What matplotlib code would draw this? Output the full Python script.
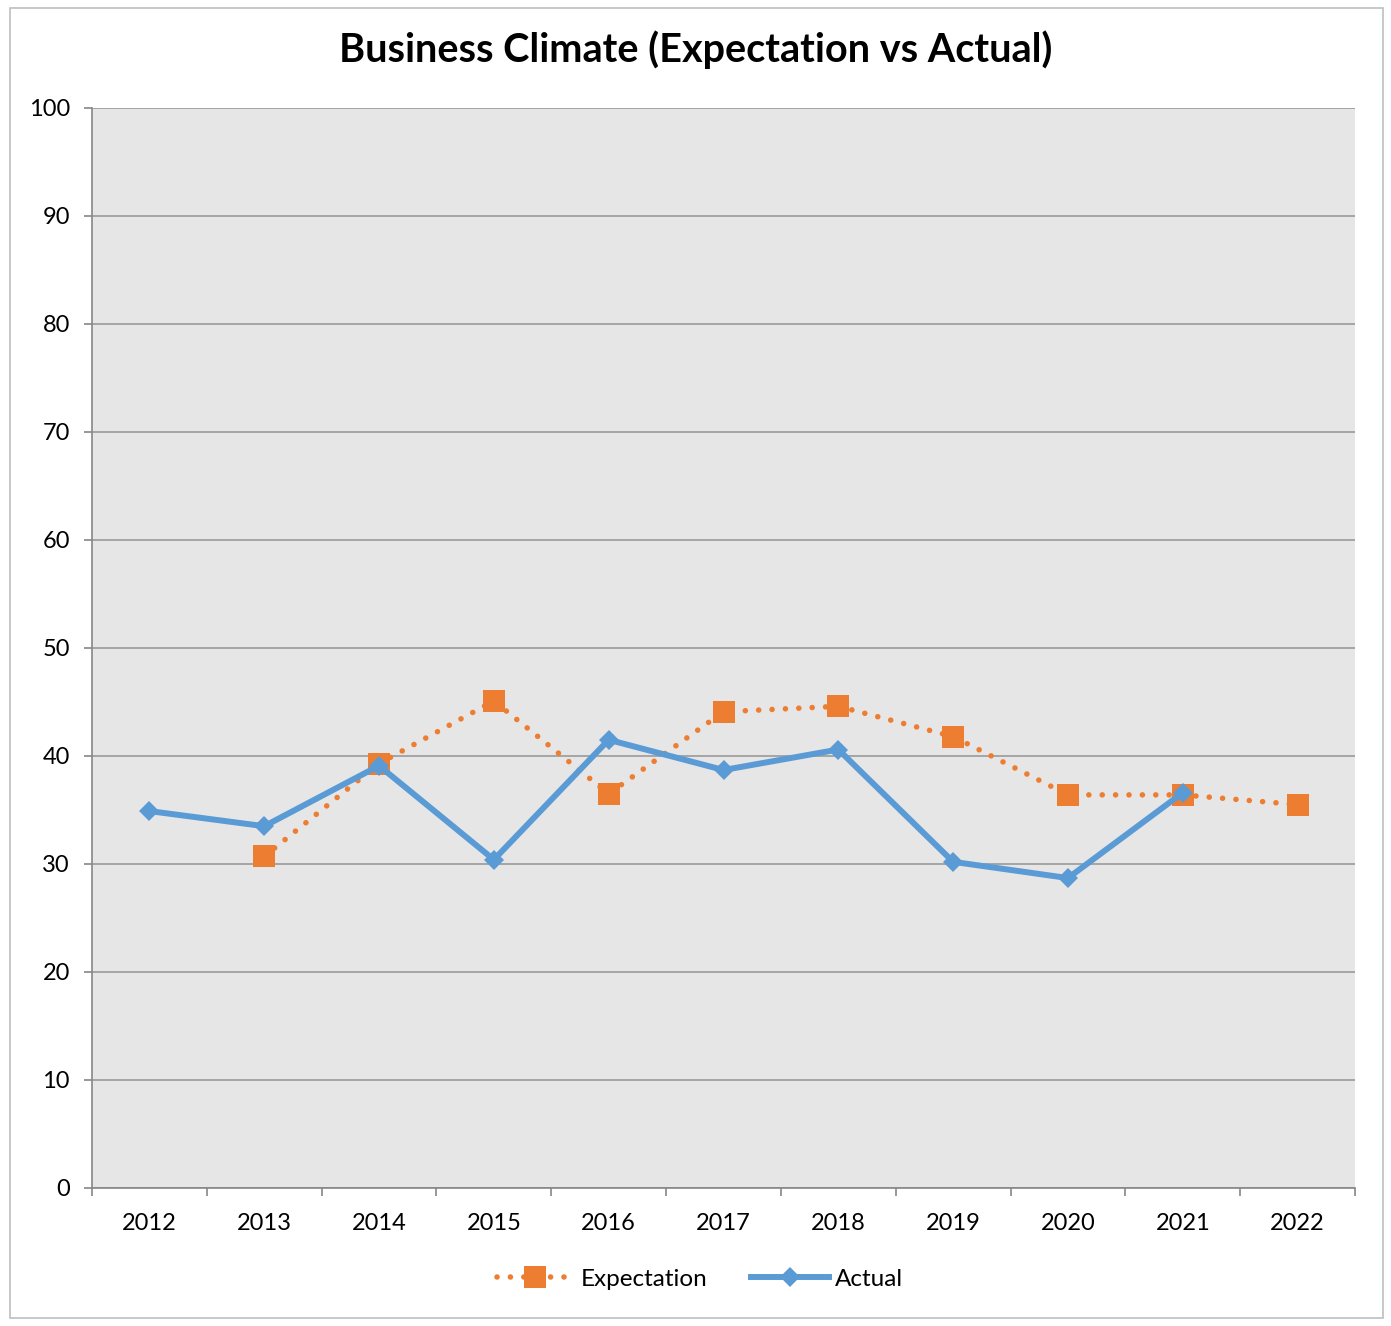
import matplotlib.pyplot as plt
import matplotlib.patches as patches
import numpy as np

# data
years = ['2012', '2013', '2014', '2015', '2016', '2017', '2018', '2019', '2020', '2021', '2022']
expectation = [np.nan, 30.7, 39.3, 45.1, 36.5, 44.1, 44.6, 41.8, 36.4, 36.4, 35.5]
actual = [34.9, 33.5, 39.1, 30.4, 41.5, 38.7, 40.6, 30.2, 28.7, 36.6, np.nan]
yticks = list(range(0, 101, 10))

plt.rcParams['font.family'] = ['Lato', 'DejaVu Sans']

fig = plt.figure(figsize=(13.91, 13.26), dpi=100)
ax = fig.add_axes([92 / 1391, 1 - 1188 / 1326, (1355 - 92) / 1391, (1188 - 108) / 1326])

# outer chart border
fig.patches.append(patches.Rectangle((10 / 1391, 1 - 1318 / 1326), 1373 / 1391, 1310 / 1326,
                                     transform=fig.transFigure, fill=False,
                                     edgecolor='#BFBFBF', linewidth=1.2))

x = np.arange(len(years))
ax.set_facecolor('#E6E6E6')

ax.plot(x, expectation, color='#ED7D31', linewidth=4.0, linestyle=(0, (0.01, 2.4)),
        dash_capstyle='round', marker='s', markersize=15.5, markeredgewidth=0,
        label='Expectation', zorder=3)
ax.plot(x, actual, color='#5B9BD5', linewidth=4.3, marker='D', markersize=10.5,
        markeredgewidth=0, label='Actual', zorder=4)

ax.set_xlim(-0.5, len(years) - 0.5)
ax.set_ylim(0, 100)
ax.set_yticks(yticks)
ax.yaxis.grid(True, color='#A0A0A0', linewidth=1.3)
ax.set_axisbelow(True)

ax.set_xticks(x)
ax.set_xticklabels(years)
ax.set_xticks(np.arange(-0.5, len(years), 1.0), minor=True)
ax.tick_params(axis='x', which='major', length=0, pad=18, labelsize=17)
ax.tick_params(axis='x', which='minor', length=6, width=1.2, color='#868686')
ax.tick_params(axis='y', length=6, width=1.2, color='#868686', pad=10, labelsize=17)

for side in ['top', 'right']:
    ax.spines[side].set_visible(False)
for side in ['left', 'bottom']:
    ax.spines[side].set_color('#868686')
    ax.spines[side].set_linewidth(1.2)

fig.text(0.5, 1 - 50 / 1326, 'Business Climate (Expectation vs Actual)', ha='center',
         va='center', fontsize=28.5, fontweight='bold')

fig.legend(loc='center', bbox_to_anchor=(0.503, 1 - 1279 / 1326), ncol=2, frameon=False,
           fontsize=17.5, handlelength=3.2, columnspacing=1.8, handletextpad=0.25)

fig.savefig('out.png', dpi=100)
